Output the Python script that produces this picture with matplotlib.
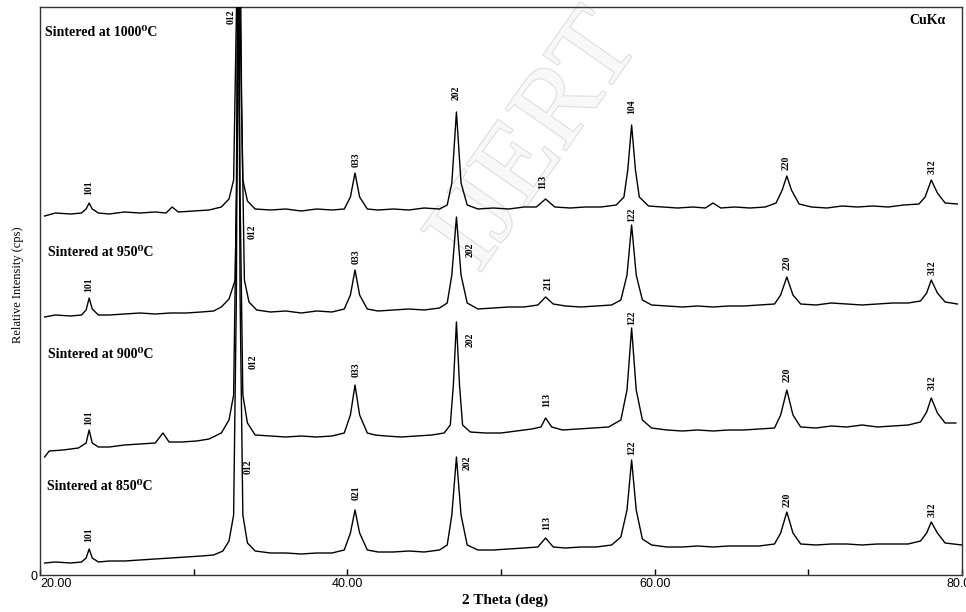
# XRD patterns of the samples sintered at 850-1000 C (stacked, offset intensities)
import numpy as np
import matplotlib
matplotlib.use("Agg")
import matplotlib.pyplot as plt
import matplotlib.patheffects as pe

# ---- data (2 theta in deg, intensity in arbitrary cps) ----
tt_1000 = [20.3, 21, 22, 22.7, 23.0, 23.2, 23.4, 23.8, 24.5, 25.5, 26.5, 27.5, 28.2, 28.6, 29.0, 30, 31,
           31.8, 32.3, 32.6, 32.78, 32.9, 33.02, 33.2, 33.5, 34.0, 35, 36, 37, 38, 39, 39.8, 40.2, 40.5,
           40.8, 41.3, 42, 43, 44, 45, 46, 46.5, 46.8, 47.1, 47.4, 47.8, 48.5, 49.5, 50.5, 51.5, 52.3,
           52.9, 53.5, 54.5, 55.5, 56.5, 57.5, 58.0, 58.25, 58.5, 58.75, 59.0, 59.6, 60.5, 61.5, 62.5,
           63.3, 63.8, 64.3, 65.2, 66.2, 67.2, 67.9, 68.3, 68.6, 68.9, 69.4, 70.2, 71.2, 72.2, 73.2,
           74.2, 75.2, 76.2, 77.2, 77.6, 78.0, 78.4, 78.9, 79.7]
i_1000 = [359, 362, 361, 362, 366, 372, 366, 362, 361, 363, 362, 363, 362, 368, 363, 364, 365,
          368, 376, 395, 560, 700, 560, 395, 374, 366, 365, 366, 364, 366, 365, 366, 378, 402,
          378, 366, 365, 366, 365, 367, 366, 370, 392, 463, 392, 370, 366, 367, 366, 368, 368,
          376, 368, 367, 368, 368, 370, 378, 405, 450, 405, 378, 369, 368, 367, 368,
          367, 372, 367, 368, 367, 368, 372, 385, 399, 385, 371, 368, 367, 369, 368,
          369, 368, 370, 371, 378, 395, 382, 372, 371]

tt_950 = [20.3, 21, 22, 22.7, 23.0, 23.2, 23.4, 23.8, 24.5, 25.5, 26.5, 27.5, 28.5, 29.5, 30.5, 31.3,
          31.8, 32.3, 32.7, 32.88, 33.0, 33.12, 33.3, 33.6, 34.1, 35, 36, 37, 38, 39, 39.8, 40.2,
          40.5, 40.8, 41.3, 42, 43, 44, 45, 46, 46.5, 46.8, 47.1, 47.4, 47.8, 48.5, 49.5, 50.5,
          51.5, 52.4, 52.9, 53.4, 54.2, 55.2, 56.2, 57.2, 57.8, 58.2, 58.5, 58.8, 59.2, 59.8, 60.8,
          61.8, 62.8, 63.8, 64.8, 65.8, 66.8, 67.8, 68.2, 68.6, 69.0, 69.5, 70.5, 71.5, 72.5, 73.5,
          74.5, 75.5, 76.5, 77.3, 77.7, 78.0, 78.4, 78.9, 79.7]
i_950 = [258, 260, 259, 260, 265, 277, 266, 260, 260, 261, 262, 261, 262, 262, 263, 264,
         268, 276, 295, 470, 700, 470, 295, 273, 265, 263, 264, 262, 264, 263, 266, 280,
         305, 280, 266, 264, 265, 266, 265, 267, 272, 300, 358, 300, 272, 266, 267, 268,
         268, 270, 278, 271, 269, 268, 269, 270, 275, 300, 350, 300, 275, 270, 269,
         268, 269, 268, 269, 269, 270, 271, 280, 298, 280, 271, 270, 272, 271, 270,
         271, 272, 272, 274, 282, 295, 282, 273, 271]

tt_900 = [20.3, 20.6, 21.5, 22.5, 23.0, 23.2, 23.4, 23.8, 24.5, 25.5, 26.5, 27.5, 28.0, 28.4, 29.2,
          30.2, 31.0, 31.8, 32.3, 32.6, 32.78, 32.9, 33.02, 33.2, 33.5, 34.0, 35, 36, 37, 38, 39,
          39.8, 40.2, 40.5, 40.8, 41.3, 41.8, 42.5, 43.5, 44.5, 45.5, 46.3, 46.7, 46.9, 47.1, 47.3,
          47.5, 48.0, 49.0, 50.0, 51.0, 52.0, 52.6, 52.9, 53.3, 54.0, 55.0, 56.0, 57.0, 57.8, 58.2,
          58.5, 58.8, 59.2, 59.8, 60.8, 61.8, 62.8, 63.8, 64.8, 65.8, 66.8, 67.8, 68.2, 68.6, 69.0,
          69.5, 70.5, 71.5, 72.5, 73.5, 74.5, 75.5, 76.5, 77.3, 77.7, 78.0, 78.4, 78.9, 79.6]
i_900 = [118, 124, 125, 127, 132, 145, 132, 128, 128, 130, 131, 132, 142, 133, 133,
         134, 136, 142, 155, 180, 380, 700, 380, 180, 152, 140, 139, 138, 139, 138, 139,
         142, 160, 190, 160, 142, 140, 139, 138, 139, 140, 142, 150, 190, 253, 190,
         150, 143, 142, 142, 144, 146, 148, 157, 148, 145, 146, 147, 148, 155, 185,
         247, 185, 155, 147, 145, 144, 145, 144, 145, 145, 146, 147, 160, 185, 160,
         148, 147, 149, 148, 150, 148, 149, 150, 153, 163, 177, 162, 152, 152]

tt_850 = [20.3, 21, 22, 22.7, 23.0, 23.2, 23.4, 23.8, 24.5, 25.5, 26.5, 27.5, 28.5, 29.5, 30.5, 31.3,
          31.9, 32.3, 32.6, 32.78, 32.9, 33.02, 33.2, 33.5, 34.0, 35, 36, 37, 38, 39, 39.8, 40.2,
          40.5, 40.8, 41.3, 42, 43, 44, 45, 46, 46.5, 46.8, 47.1, 47.4, 47.8, 48.5, 49.5, 50.5,
          51.5, 52.4, 52.9, 53.4, 54.2, 55.2, 56.2, 57.2, 57.8, 58.2, 58.5, 58.8, 59.2, 59.8, 60.8,
          61.8, 62.8, 63.8, 64.8, 65.8, 66.8, 67.8, 68.2, 68.6, 69.0, 69.5, 70.5, 71.5, 72.5, 73.5,
          74.5, 75.5, 76.5, 77.3, 77.7, 78.0, 78.4, 78.9, 80.0]
i_850 = [12, 13, 12, 13, 17, 26, 17, 13, 14, 14, 15, 16, 17, 18, 19, 20,
         24, 34, 60, 280, 700, 280, 60, 32, 24, 22, 22, 21, 22, 22, 25, 42,
         65, 42, 25, 23, 23, 24, 23, 25, 30, 60, 118, 60, 30, 25, 25, 26,
         27, 28, 37, 28, 27, 28, 28, 30, 38, 65, 115, 65, 36, 30, 28,
         28, 29, 28, 29, 29, 29, 31, 42, 63, 42, 31, 30, 31, 31, 30,
         31, 31, 31, 34, 42, 53, 42, 32, 30]

temps = ["1000", "950", "900", "850"]

# hkl labels for each pattern: (text, 2theta, intensity of label centre)
hkl_1000 = [("101", 23.2, 387), ("012", 32.43, 558), ("033", 40.56, 415), ("202", 47.07, 482),
            ("113", 52.73, 393), ("104", 58.52, 468), ("220", 68.54, 412), ("312", 78.03, 408)]
hkl_950 = [("101", 23.2, 290), ("012", 33.79, 343), ("033", 40.56, 318), ("202", 47.98, 325),
           ("211", 53.05, 292), ("122", 58.52, 360), ("220", 68.6, 312), ("312", 78.03, 307)]
hkl_900 = [("101", 23.2, 157), ("012", 33.86, 213), ("033", 40.56, 205), ("202", 47.98, 235),
           ("113", 52.99, 175), ("122", 58.52, 257), ("220", 68.6, 200), ("312", 78.03, 192)]
hkl_850 = [("101", 23.2, 40), ("012", 33.53, 108), ("021", 40.56, 82), ("202", 47.78, 112),
           ("113", 52.99, 52), ("122", 58.52, 127), ("220", 68.6, 75), ("312", 78.03, 65)]

# where the sample name sits (2theta, intensity)
name_pos = [(20.33, 543), (20.52, 323), (20.52, 220), (20.45, 88)]

serif = ["Liberation Serif", "DejaVu Serif"]

fig = plt.figure(figsize=(9.66, 6.12), dpi=100)
ax = fig.add_axes([40 / 966, 37 / 612, 922 / 966, 568 / 612])

patterns = [(tt_1000, i_1000, hkl_1000), (tt_950, i_950, hkl_950),
            (tt_900, i_900, hkl_900), (tt_850, i_850, hkl_850)]

for (tt, inten, hkl), t, (nx, ny) in zip(patterns, temps, name_pos):
    ax.plot(tt, inten, color="black", lw=1.0, zorder=3)
    for lab, x, y in hkl:
        ax.text(x, y, lab, rotation=90, ha="center", va="center", fontsize=7,
                fontweight="bold", family=serif, zorder=4)
    ax.text(nx, ny, f"Sintered at {t}\u2070C", ha="left", va="center", fontsize=10,
            fontweight="bold", family=serif, zorder=4)

ax.text(78.95, 555, "CuK\u03b1", ha="right", va="center", fontsize=10,
        fontweight="bold", family=serif)

# faint journal watermark
wm = ax.text(0.54, 0.76, "IJERT", transform=ax.transAxes, rotation=55, ha="center", va="center",
             fontsize=80, family=serif, color="#f8f8f8", zorder=1)
wm.set_path_effects([pe.withStroke(linewidth=1.5, foreground="#dcdcdc")])

ax.set_xlim(20, 80)
ax.set_ylim(0, 568)
ax.set_xticks([20, 40, 60, 80])
ax.set_xticklabels(["20.00", "40.00", "60.00", "80.00"], family="Liberation Sans", fontsize=9)
ax.get_xticklabels()[0].set_horizontalalignment("left")
ax.set_xticks([30, 50, 70], minor=True)
ax.tick_params(axis="x", which="both", direction="in", length=4, width=1, pad=2)
ax.set_yticks([0])
ax.set_yticklabels(["0"], family="Liberation Sans", fontsize=9)
ax.tick_params(axis="y", length=0, pad=2)
for s in ax.spines.values():
    s.set_linewidth(1.0)
    s.set_color("#333333")

fig.text(18 / 966, 1 - 285 / 612, "Relative Intensity (cps)", rotation=90, ha="center", va="center",
         fontsize=9, family=serif)
fig.text(505 / 966, 1 - 600 / 612, "2 Theta (deg)", ha="center", va="center", fontsize=11,
         fontweight="bold", family=serif)

fig.savefig("out.png", dpi=100)
